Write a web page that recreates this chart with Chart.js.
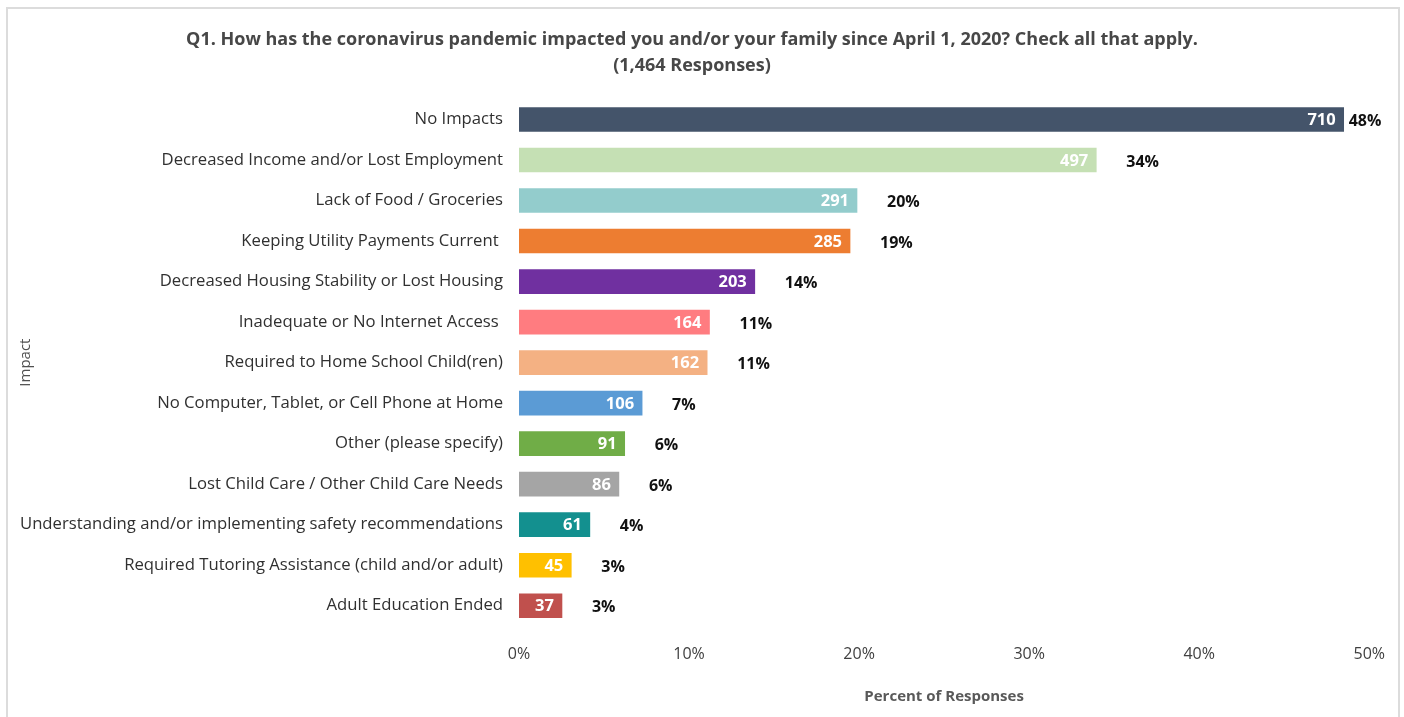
<!DOCTYPE html>
<html>
<head>
<meta charset="utf-8">
<title>Q1 Pandemic Impacts</title>
<script src="https://cdn.jsdelivr.net/npm/chart.js@4.4.1/dist/chart.umd.min.js"></script>
<style>
  html, body { margin: 0; padding: 0; background: #fff; }
  .frame {
    position: absolute; left: 6px; top: 7px; width: 1394px; height: 720px;
    border: 2px solid #dcdcdc; box-sizing: border-box;
  }
  #wrap { position: absolute; left: 0; top: 0; width: 1404px; height: 717px; }
</style>
</head>
<body>
<div class="frame"></div>
<div id="wrap"><canvas id="impactChart" width="1404" height="717"></canvas></div>
<script>
const impacts = [
  'No Impacts',
  'Decreased Income and/or Lost Employment',
  'Lack of Food / Groceries',
  'Keeping Utility Payments Current ',
  'Decreased Housing Stability or Lost Housing',
  'Inadequate or No Internet Access ',
  'Required to Home School Child(ren)',
  'No Computer, Tablet, or Cell Phone at Home',
  'Other (please specify)',
  'Lost Child Care / Other Child Care Needs',
  'Understanding and/or implementing safety recommendations',
  'Required Tutoring Assistance (child and/or adult)',
  'Adult Education Ended'
];
const counts = [710, 497, 291, 285, 203, 164, 162, 106, 91, 86, 61, 45, 37];
const totalResponses = 1464;
const xTicks = [0, 10, 20, 30, 40, 50];
const barColors = [
  '#44546a', '#c5e0b4', '#93cccc', '#ed7d31', '#7030a0', '#ff7c80', '#f4b183',
  '#5b9bd5', '#70ad47', '#a5a5a5', '#13908f', '#ffc000', '#c0504d'
];

const percents = counts.map(c => c / totalResponses * 100);
const FONT = '"Open Sans", "Noto Sans", sans-serif';

// count inside the bar end, rounded percent just past it
const barLabels = {
  id: 'barLabels',
  afterDatasetsDraw(chart) {
    const ctx = chart.ctx;
    const meta = chart.getDatasetMeta(0);
    const right = chart.chartArea.right;
    ctx.save();
    ctx.textBaseline = 'middle';
    meta.data.forEach((bar, i) => {
      ctx.font = 'bold 16.5px ' + FONT;
      ctx.fillStyle = '#ffffff';
      ctx.textAlign = 'right';
      ctx.fillText(String(counts[i]), bar.x - 8, bar.y + 1);

      ctx.font = 'bold 16px ' + FONT;
      const pct = Math.round(percents[i]) + '%';
      const w = ctx.measureText(pct).width;
      let x = bar.x + 30;
      if (x + w > right + 20) x = bar.x + 5;
      ctx.fillStyle = '#111111';
      ctx.textAlign = 'left';
      ctx.fillText(pct, x, bar.y + 2);
    });
    ctx.restore();
  }
};

new Chart(document.getElementById('impactChart'), {
  type: 'bar',
  data: {
    labels: impacts,
    datasets: [{
      label: 'Percent of Responses',
      data: percents,
      backgroundColor: barColors,
      barThickness: 24
    }]
  },
  options: {
    indexAxis: 'y',
    responsive: false,
    animation: false,
    layout: { padding: { left: 14, right: 34, top: 0, bottom: 0 } },
    plugins: {
      legend: { display: false },
      tooltip: { enabled: false },
      title: {
        display: true,
        text: [
          'Q1. How has the coronavirus pandemic impacted you and/or your family since April 1, 2020? Check all that apply.',
          '(1,464 Responses)'
        ],
        color: '#474747',
        font: { family: FONT, size: 18, weight: 'bold', lineHeight: 1.45 },
        padding: { top: 27, bottom: 20 }
      }
    },
    scales: {
      x: {
        min: 0,
        max: 50,
        afterBuildTicks(scale) { scale.ticks = xTicks.map(v => ({ value: v })); },
        afterFit(scale) { scale.height = 91; },
        grid: { display: false, drawTicks: false },
        border: { display: false },
        ticks: {
          padding: 19,
          color: '#404040',
          font: { family: FONT, size: 16 },
          callback: v => v + '%'
        },
        title: {
          display: true,
          text: 'Percent of Responses',
          color: '#595959',
          font: { family: FONT, size: 15, weight: 'bold' },
          padding: { top: 0, bottom: 11 }
        }
      },
      y: {
        afterFit(scale) { scale.width = 505; },
        grid: { display: false, drawTicks: false },
        border: { display: false },
        ticks: {
          padding: 16,
          autoSkip: false,
          color: '#303030',
          font: { family: FONT, size: 16.7 }
        },
        title: {
          display: true,
          text: 'Impact',
          color: '#505050',
          font: { family: FONT, size: 15 },
          padding: { top: 3, bottom: 0 }
        }
      }
    }
  },
  plugins: [barLabels]
});
</script>
</body>
</html>
